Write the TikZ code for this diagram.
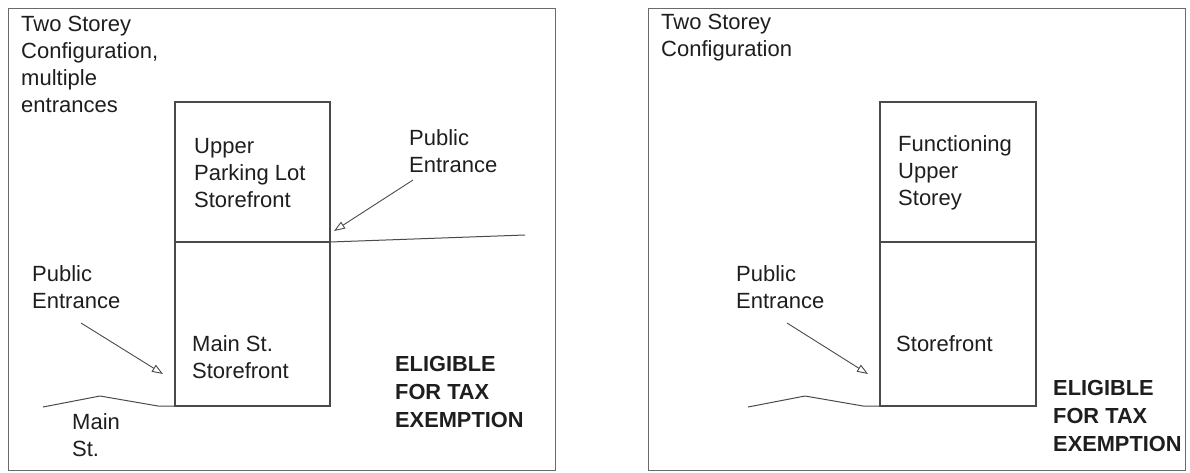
\documentclass[tikz,border=0pt]{standalone}
\usepackage{fontspec}
\setmainfont{Liberation Sans}
\usetikzlibrary{arrows.meta}
\definecolor{ln}{HTML}{4A4A4A}
\definecolor{fr}{HTML}{6A6A6A}
\definecolor{tx}{HTML}{1E1E1E}
\tikzset{
  lbl/.style={anchor=west, align=left, inner sep=0pt, text=tx, font=\fontsize{22}{27}\selectfont},
  bold/.style={lbl, font=\fontsize{21.8}{28}\selectfont\bfseries},
  frame/.style={draw=fr, line width=1pt},
  wall/.style={draw=ln, line width=1.2pt},
  ground/.style={draw=ln, line width=1pt},
  pointer/.style={draw=ln, line width=0.9pt, -{Triangle[open, length=11pt, width=8pt]}},
}
\begin{document}
\begin{tikzpicture}[x=1pt, y=-1pt]
\useasboundingbox (0,0) rectangle (1190,472);
% ---------- left panel ----------
\draw[frame] (8,8) rectangle (555,470);
\node[lbl] (t1) at (21,64.5) {Two Storey\\Configuration,\\multiple\\entrances};
\coordinate (ua) at (175,102);
\coordinate (um) at (330,242);
\coordinate (ul) at (175,242);
\coordinate (lb) at (330,406);
\draw[wall] (ua) rectangle (um);
\draw[wall] (ul) rectangle (lb);
\node[lbl] (up) at (194,173) {Upper\\Parking Lot\\Storefront};
\node[lbl] (ms) at (192,357) {Main St.\\Storefront};
\node[lbl] (pe1) at (409,151) {Public\\Entrance};
\coordinate (a1s) at (413,180);
\coordinate (a1e) at (334,231);
\draw[pointer] (a1s) -- (a1e);
\coordinate (g1a) at (525,235);
\draw[ground] (um) -- (g1a);
\node[lbl] (pe2) at (32,287) {Public\\Entrance};
\coordinate (a2s) at (81,323);
\coordinate (a2e) at (163,374);
\draw[pointer] (a2s) -- (a2e);
\coordinate (m1) at (43,407);
\coordinate (m2) at (100,396);
\coordinate (m3) at (158,406);
\coordinate (lbl1) at (175,406);
\draw[ground] (m1) -- (m2) -- (m3) -- (lbl1);
\node[lbl] (mst) at (72,435) {Main\\St.};
\node[bold] (el1) at (395,392) {ELIGIBLE\\FOR TAX\\EXEMPTION};
% ---------- right panel ----------
\draw[frame] (648,8) rectangle (1185,470);
\node[lbl] (t2) at (661,37.5) {Two Storey\\Configuration};
\coordinate (ra) at (880,102);
\coordinate (rm) at (1036,242);
\coordinate (rl) at (880,242);
\coordinate (rb) at (1036,406);
\draw[wall] (ra) rectangle (rm);
\draw[wall] (rl) rectangle (rb);
\node[lbl] (fu) at (898,173) {Functioning\\Upper\\Storey};
\node[lbl] (sf) at (896,344) {Storefront};
\node[lbl] (pe3) at (736,287) {Public\\Entrance};
\coordinate (a3s) at (787,323);
\coordinate (a3e) at (868,374);
\draw[pointer] (a3s) -- (a3e);
\coordinate (n1) at (748,407);
\coordinate (n2) at (805,396);
\coordinate (n3) at (863,406);
\coordinate (n4) at (880,406);
\draw[ground] (n1) -- (n2) -- (n3) -- (n4);
\node[bold] (el2) at (1053,416) {ELIGIBLE\\FOR TAX\\EXEMPTION};
\end{tikzpicture}
\end{document}
